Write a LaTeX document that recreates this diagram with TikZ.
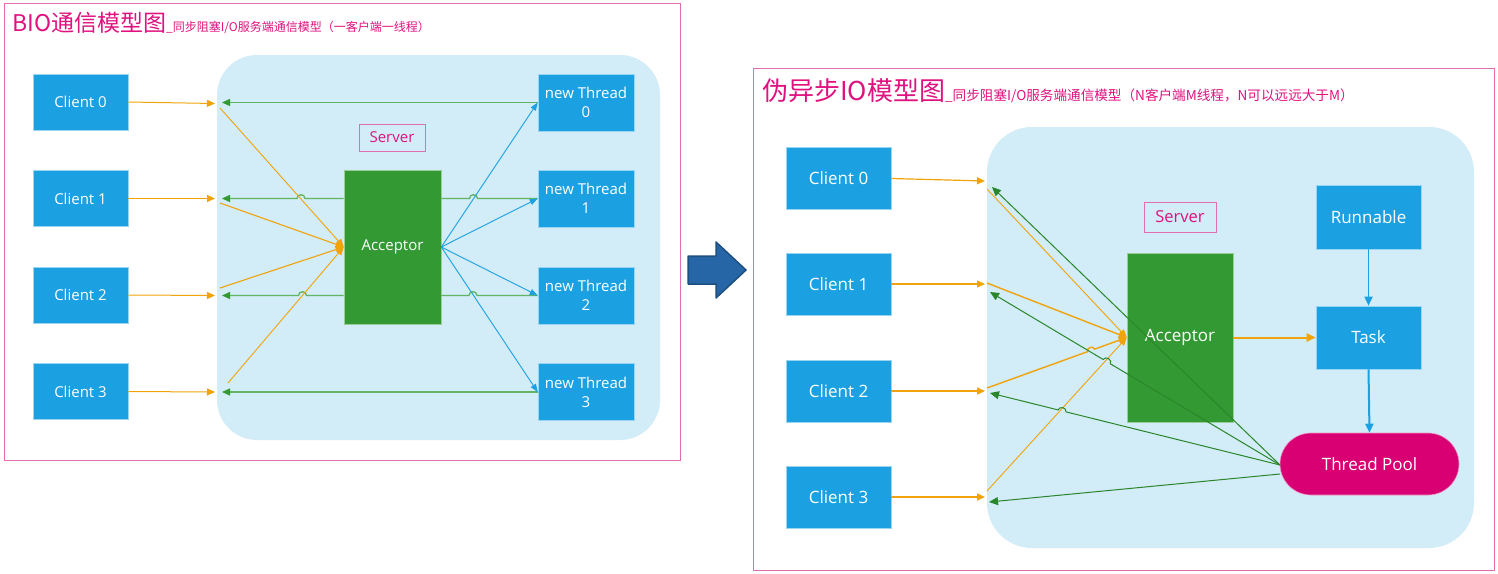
\documentclass[tikz,border=0pt]{standalone}
\usepackage{fontspec}
\setmainfont{Open Sans}
\newfontfamily\cjk{Noto Sans CJK SC}
\usetikzlibrary{arrows.meta,calc}
\definecolor{cblue}{HTML}{1BA1E2}
\definecolor{cgreen}{HTML}{339933}
\definecolor{cdgreen}{HTML}{2A862A}
\definecolor{cmag}{HTML}{D80073}
\definecolor{clight}{HTML}{D2ECF8}
\definecolor{corange}{HTML}{F0A30A}
\definecolor{cframe}{HTML}{E46CB0}
\definecolor{ctitle}{HTML}{E0127F}
\definecolor{carrow}{HTML}{2766A6}
\definecolor{carrowb}{HTML}{1D4F80}
\definecolor{cgline}{HTML}{62B462}
\begin{document}
\begin{tikzpicture}[x=1pt,y=-1pt,
  box/.style={fill=cblue,draw=white!55!cblue,line width=0.6pt,text=white,inner sep=0pt,align=center},
  boxl/.style={box,minimum width=95pt,minimum height=56pt,font=\fontsize{15}{18}\selectfont},
  thr/.style={box,minimum width=96pt,minimum height=57pt,font=\fontsize{15}{19}\selectfont},
  boxr/.style={box,minimum width=105pt,minimum height=62pt,font=\fontsize{17}{20}\selectfont},
  acc/.style={fill=cgreen,draw=white!50!cgreen,line width=0.6pt,text=white,inner sep=0pt},
  srv/.style={draw=cframe,line width=1pt,text=ctitle,inner sep=0pt,fill=clight},
  frame/.style={draw=cframe,line width=1pt},
  region/.style={fill=clight},
  otip/.style={-{Triangle[length=8pt,width=7pt]}},
  oarr/.style={draw=corange,line width=1pt,otip},
  gline/.style={draw=cgline,line width=1.3pt},
  gtip/.style={-{Triangle[length=8pt,width=7pt,fill=cgreen,color=cgreen]}},
  barr/.style={draw=cblue,line width=0.9pt,-{Triangle[length=8pt,width=6pt]}},
  grarr/.style={draw=cdgreen,line width=1pt,-{Triangle[length=9pt,width=8pt]}},
]
\useasboundingbox (0,0) rectangle (1498,573);
\fill[white] (0,0) rectangle (1498,573);

% ---------------- left frame ----------------
\draw[frame] (4,3) rectangle (680,460);
\node[anchor=base west,inner sep=0pt,text=ctitle] (titleL) at (12,31)
  {\cjk\fontsize{23}{26}\selectfont BIO通信模型图\fontsize{12}{14}\selectfont\_同步阻塞I/O服务端通信模型（一客户端一线程）};
\fill[region,rounded corners=40pt] (217,55) rectangle (660,440);

\node[boxl] (c0) at (80.5,102) {Client 0};
\node[boxl] (c1) at (80.5,198.5) {Client 1};
\node[boxl] (c2) at (80.5,295) {Client 2};
\node[boxl] (c3) at (80.5,391.5) {Client 3};

\node[thr] (t0) at (586,102.5) {new Thread\\0};
\node[thr] (t1) at (586,198.5) {new Thread\\1};
\node[thr] (t2) at (586,295.5) {new Thread\\2};
\node[thr] (t3) at (586,392) {new Thread\\3};

\node[acc,minimum width=97pt,minimum height=154pt,font=\fontsize{15}{18}\selectfont] (accL) at (392.5,247) {Acceptor};
\node[srv,minimum width=66pt,minimum height=27pt,font=\fontsize{15}{18}\selectfont] (srvL) at (392,137.5) {Server};

\coordinate (la0) at (215,103.5);
\coordinate (la1) at (215,198.5);
\coordinate (la2) at (215,295.5);
\coordinate (la3) at (215,392);
\coordinate (lg0) at (222,102.5);
\coordinate (lg1) at (222,198.5);
\coordinate (lg2) at (222,295.5);
\coordinate (lg3) at (222,392);
\coordinate (oa0) at (220,108);
\coordinate (oa1) at (220,203);
\coordinate (oa2) at (220,288);
\coordinate (oa3) at (228,383);

% client -> server
\draw[oarr] (c0.east) -- (la0);
\draw[oarr] (c1.east) -- (la1);
\draw[oarr] (c2.east) -- (la2);
\draw[oarr] (c3.east) -- (la3);

% thread -> client (green)
\draw[gline,gtip] (t0.west) -- (lg0);
\draw[gline] (t1.west) -- (477.5,198.5) .. controls (477.5,193.5) and (469.5,193.5) .. (469.5,198.5) -- (accL.east |- t1.west);
\draw[gline,gtip] (accL.west |- t1.west) -- (305,198.5) .. controls (305,193.5) and (297,193.5) .. (297,198.5) -- (lg1);
\draw[gline] (t2.west) -- (477,295.5) .. controls (477,290.5) and (469,290.5) .. (469,295.5) -- (accL.east |- t2.west);
\draw[gline,gtip] (accL.west |- t2.west) -- (306.5,295.5) .. controls (306.5,290.5) and (298.5,290.5) .. (298.5,295.5) -- (lg2);
\draw[gline,gtip] (t3.west) -- (lg3);

% converging orange
\draw[oarr,line width=0.9pt] (oa0) -- (accL.west);
\draw[oarr,line width=1.1pt] (oa1) -- (accL.west);
\draw[oarr,line width=1.1pt] (oa2) -- (accL.west);
\draw[oarr,line width=0.9pt] (oa3) -- (accL.west);

% acceptor -> threads
\draw[barr] (accL.east) -- (t0.west);
\draw[barr] (accL.east) -- (t1.west);
\draw[barr] (accL.east) -- (t2.west);
\draw[barr] (accL.east) -- (t3.west);

% ---------------- big arrow ----------------
\draw[fill=carrow,draw=carrowb,line width=1.5pt,line join=round]
  (688,256) -- (716,256) -- (716,242) -- (746,270) -- (716,298) -- (716,284) -- (688,284) -- cycle;

% ---------------- right frame ----------------
\draw[frame] (753,68) rectangle (1494,570);
\node[anchor=base west,inner sep=0pt,text=ctitle] (titleR) at (762,100)
  {\cjk\fontsize{26}{29}\selectfont 伪异步IO模型图\fontsize{13.6}{15}\selectfont\_同步阻塞I/O服务端通信模型（N客户端M线程，N可以远远大于M）};
\fill[region,rounded corners=45pt] (987,127) rectangle (1474,548);

\node[boxr] (d0) at (838.5,178.5) {Client 0};
\node[boxr] (d1) at (838.5,284) {Client 1};
\node[boxr] (d2) at (838.5,391) {Client 2};
\node[boxr] (d3) at (838.5,497) {Client 3};

\node[acc,minimum width=106pt,minimum height=169pt,font=\fontsize{17}{20}\selectfont] (accR) at (1180,337.5) {Acceptor};
\node[srv,minimum width=72pt,minimum height=30pt,font=\fontsize{16.5}{19}\selectfont] (srvR) at (1180,217) {Server};
\node[boxr,minimum height=64pt] (run) at (1368.5,217) {Runnable};
\node[boxr,minimum height=63pt] (task) at (1368.5,337.5) {Task};
\node[fill=cmag,draw=white!60!cmag,line width=0.6pt,text=white,inner sep=0pt,minimum width=179pt,minimum height=62pt,rounded corners=31pt,font=\fontsize{17}{20}\selectfont] (pool) at (1369.5,464) {Thread Pool};

\coordinate (ra0) at (985,181);
\coordinate (ra1) at (985,284);
\coordinate (ra2) at (985,391);
\coordinate (ra3) at (985,497);
\coordinate (ob0) at (987,189);
\coordinate (ob1) at (987,283);
\coordinate (ob2) at (987,388);
\coordinate (ob3) at (987,491);
\coordinate (gb0) at (992,187);
\coordinate (gb1) at (990,292);
\coordinate (gb2) at (990,393);
\coordinate (gb3) at (989,502);
\coordinate (ps) at (1280,465);
\coordinate (ps3) at (1280,474);

% client -> server
\draw[oarr,line width=1.2pt,otip] (d0.east) -- (ra0);
\draw[draw=corange!55,line width=2.4pt] (d1.east) -- ($(ra1)+(-8,0)$);
\draw[oarr,line width=1.2pt] (d1.east) -- (ra1);
\draw[draw=corange!35,line width=2.4pt] (d2.east) -- ($(ra2)+(-8,0)$);
\draw[oarr,line width=1.2pt] (d2.east) -- (ra2);
\draw[oarr,line width=2.2pt] (d3.east) -- (ra3);

% converging orange
\draw[oarr,line width=0.9pt] (ob0) -- (accR.west);
\draw[oarr,line width=1.4pt] (ob1) -- (accR.west);
\draw[oarr,line width=1.4pt] (ob2) -- ($(ob2)!0.72!(accR.west)$) to[bend left=90,looseness=1.4] ($(ob2)!0.77!(accR.west)$) -- (accR.west);
\draw[oarr,line width=0.9pt] (ob3) -- (accR.west);

% acceptor -> task, runnable -> task -> pool
\draw[oarr,line width=2pt,-{Triangle[length=9pt,width=8pt]}] (accR.east) -- (task.west);
\draw[draw=cblue,line width=1.6pt,-{Triangle[length=9pt,width=8pt]}] (run.south) -- (task.north);
\draw[draw=cblue,line width=2pt,-{Triangle[length=9pt,width=8pt]}] (task.south) -- (pool.north);

% pool -> clients (green)
\draw[grarr] (ps) -- (gb0);
\draw[grarr] (ps) -- ($(ps)!0.585!(gb1)$) to[bend right=90,looseness=1.4] ($(ps)!0.61!(gb1)$) -- (gb1);
\draw[grarr] (ps) -- ($(ps)!0.738!(gb2)$) to[bend right=90,looseness=1.4] ($(ps)!0.765!(gb2)$) -- (gb2);
\draw[grarr] (ps3) -- (gb3);
\end{tikzpicture}
\end{document}
